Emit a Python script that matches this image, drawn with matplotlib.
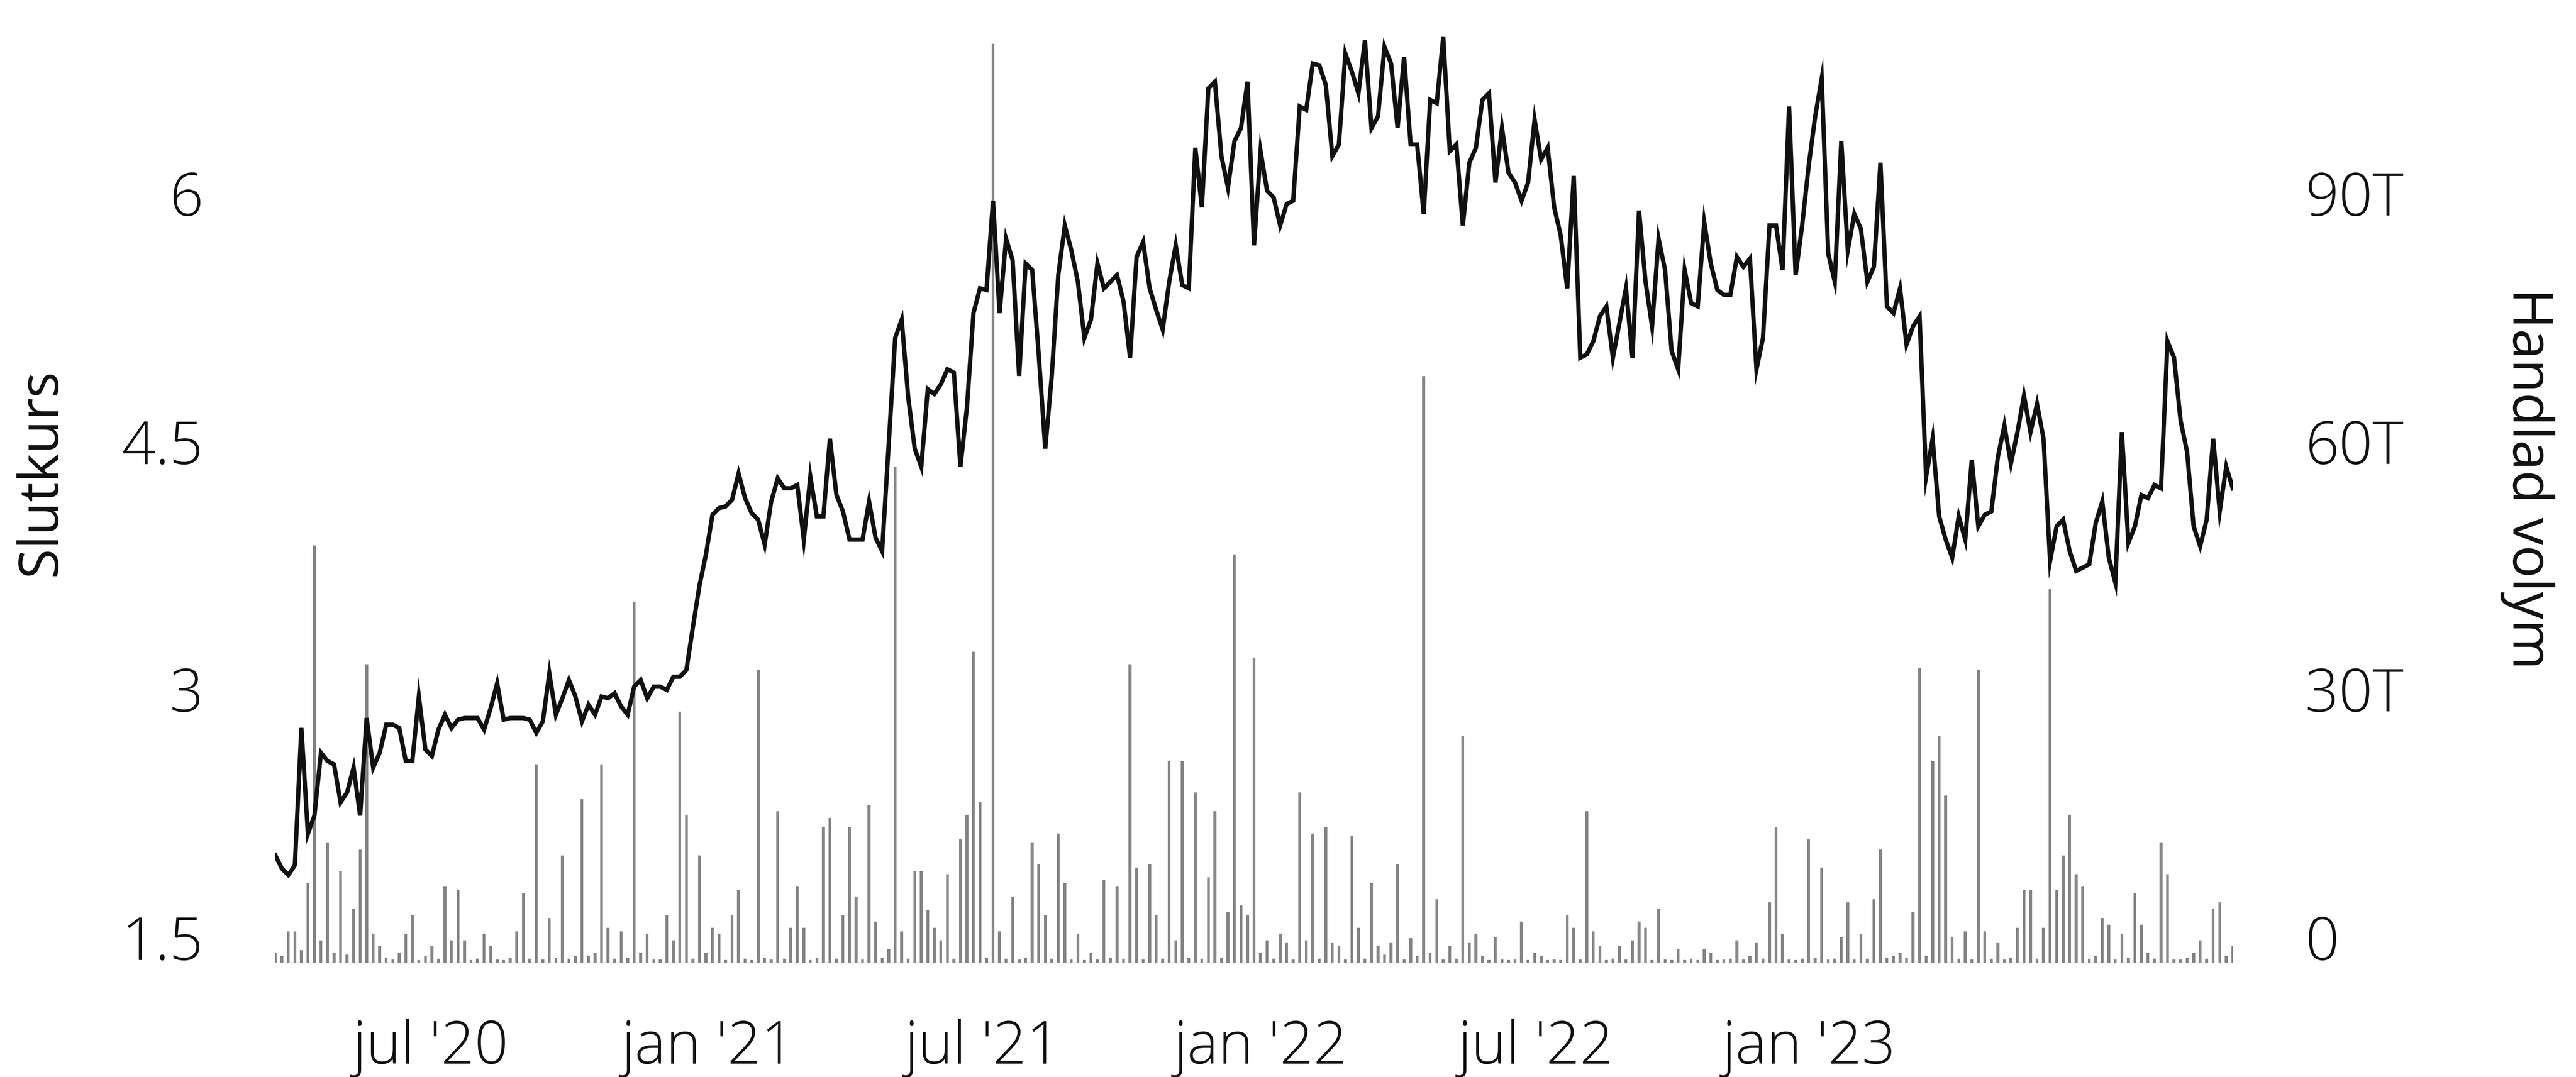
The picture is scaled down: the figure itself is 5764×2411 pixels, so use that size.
import numpy as np
import matplotlib.pyplot as plt
from matplotlib.transforms import ScaledTranslation

# closing price, one sample per step left to right
price = [
    # mar 2020 - dec 2020
    2.15, 2.07, 2.03, 2.09, 2.92, 2.28, 2.39, 2.77, 2.72, 2.70,
    2.47, 2.53, 2.68, 2.39, 2.98, 2.68, 2.77, 2.94, 2.94, 2.92,
    2.72, 2.72, 3.11, 2.79, 2.75, 2.91, 3.00, 2.92, 2.97, 2.98,
    2.98, 2.98, 2.91, 3.04, 3.19, 2.97, 2.98, 2.98, 2.98, 2.97,
    2.89, 2.96, 3.25, 3.00, 3.10, 3.21, 3.11, 2.96, 3.06,
    # dec 2020 - may 2021
    3.00, 3.11, 3.10, 3.13, 3.05, 3.00, 3.17, 3.21, 3.10, 3.17,
    3.17, 3.15, 3.23, 3.23, 3.27, 3.53, 3.78, 3.97, 4.21, 4.25,
    4.26, 4.30, 4.46, 4.31, 4.22, 4.18, 4.03, 4.29, 4.43, 4.37,
    4.37, 4.39, 4.06, 4.44, 4.20, 4.20, 4.67, 4.33, 4.23, 4.06,
    4.06, 4.06, 4.29, 4.07, 3.99, 4.63, 5.28, 5.39, 4.92, 4.61,
    # may 2021 - nov 2021
    4.50, 4.97, 4.94, 5.00, 5.09, 5.07, 4.50, 4.86, 5.43, 5.58,
    5.57, 6.11, 5.43, 5.88, 5.75, 5.05, 5.73, 5.69, 5.18, 4.61,
    5.05, 5.66, 5.96, 5.81, 5.62, 5.28, 5.39, 5.73, 5.58, 5.62,
    5.66, 5.50, 5.16, 5.77, 5.86, 5.58, 5.45, 5.33, 5.62, 5.84,
    5.60, 5.58, 6.43, 6.07, 6.79, 6.83, 6.38, 6.19, 6.47, 6.55,
    # nov 2021 - apr 2022
    6.83, 5.84, 6.41, 6.17, 6.13, 5.96, 6.09, 6.11, 6.68, 6.66,
    6.94, 6.93, 6.81, 6.38, 6.45, 7.00, 6.89, 6.76, 7.08, 6.55,
    6.62, 7.04, 6.94, 6.55, 6.98, 6.45, 6.45, 6.03, 6.72, 6.70,
    7.10, 6.41, 6.45, 5.96, 6.34, 6.43, 6.72, 6.76, 6.22, 6.55,
    6.28, 6.22, 6.11, 6.22, 6.60, 6.36, 6.43, 6.07, 5.90, 5.58,
    # apr 2022 - oct 2022
    6.26, 5.16, 5.18, 5.26, 5.41, 5.47, 5.16, 5.37, 5.58, 5.16,
    6.05, 5.62, 5.35, 5.88, 5.69, 5.20, 5.09, 5.69, 5.49, 5.47,
    5.98, 5.73, 5.57, 5.54, 5.54, 5.77, 5.71, 5.76, 5.09, 5.28,
    5.96, 5.96, 5.69, 6.68, 5.66, 5.96, 6.32, 6.62, 6.85, 5.79,
    5.62, 6.47, 5.81, 6.03, 5.94, 5.62, 5.71, 6.34, 5.47, 5.43,
    # oct 2022 - end
    5.58, 5.24, 5.35, 5.41, 4.44, 4.67, 4.20, 4.06, 3.95, 4.20,
    4.06, 4.54, 4.14, 4.21, 4.23, 4.56, 4.75, 4.52, 4.71, 4.93,
    4.71, 4.88, 4.67, 3.93, 4.14, 4.18, 3.99, 3.87, 3.89, 3.91,
    4.16, 4.29, 3.95, 3.80, 4.71, 4.04, 4.14, 4.33, 4.31, 4.39,
    4.37, 5.26, 5.16, 4.78, 4.59, 4.14, 4.02, 4.18, 4.67, 4.23,
    4.50, 4.37,
]

# traded volume in thousands, same steps as price
volume_k = [
    1.2, 0.8, 3.8, 3.8, 1.5, 9.6, 50.5, 2.7, 14.5, 1.2,
    11.1, 1.0, 6.5, 13.7, 36.1, 3.5, 2.0, 0.6, 0.4, 1.2,
    3.5, 5.8, 0.3, 0.8, 2.0, 0.5, 9.2, 2.7, 8.8, 2.7,
    0.3, 0.5, 3.5, 2.0, 0.4, 0.3, 0.6, 3.8, 8.4, 0.5,
    24.0, 0.4, 5.4, 0.6, 13.0, 0.5, 0.8, 19.8, 0.8,

    1.2, 24.0, 4.2, 0.5, 3.8, 0.6, 43.7, 1.2, 3.5, 0.4,
    0.4, 5.8, 2.7, 30.4, 17.9, 0.5, 13.0, 1.2, 4.2, 3.5,
    0.3, 5.8, 8.8, 0.5, 0.3, 35.4, 0.6, 0.4, 18.3, 0.5,
    4.2, 9.2, 4.2, 0.3, 0.6, 16.4, 17.5, 0.5, 5.8, 16.4,
    8.0, 0.4, 19.1, 5.0, 0.6, 1.6, 60.0, 3.8, 0.5, 11.1,

    11.1, 6.4, 4.2, 2.7, 10.7, 0.5, 14.9, 17.9, 37.6, 19.4,
    0.6, 111.2, 3.8, 0.5, 8.0, 0.4, 0.6, 14.5, 11.9, 5.8,
    0.5, 15.6, 9.6, 0.4, 3.5, 0.3, 1.2, 0.4, 10.0, 0.6,
    9.2, 0.5, 36.1, 11.5, 0.4, 11.9, 5.8, 0.5, 24.4, 2.7,
    24.4, 0.6, 20.6, 0.5, 10.3, 18.3, 0.6, 6.1, 49.4, 6.9,

    5.8, 36.9, 1.2, 2.7, 0.5, 3.5, 2.4, 0.4, 20.6, 2.7,
    15.6, 0.5, 16.4, 2.4, 2.0, 0.4, 15.3, 4.2, 0.5, 9.6,
    2.0, 1.0, 2.4, 11.9, 0.4, 3.0, 0.8, 71.0, 1.2, 7.7,
    0.4, 2.0, 0.5, 27.4, 2.4, 3.5, 0.8, 0.3, 3.1, 0.4,
    0.3, 0.4, 5.0, 0.3, 1.2, 0.8, 0.3, 0.4, 0.3, 5.8,

    4.2, 0.4, 18.3, 3.8, 2.0, 0.3, 0.5, 2.0, 0.4, 2.7,
    5.0, 4.2, 0.3, 6.5, 0.4, 0.3, 1.6, 0.3, 0.5, 0.3,
    1.6, 1.2, 0.3, 0.4, 0.5, 2.7, 0.4, 0.8, 2.4, 0.5,
    7.3, 16.4, 3.5, 0.4, 0.3, 0.5, 14.9, 0.6, 11.5, 0.4,
    0.5, 3.1, 7.3, 0.4, 3.5, 0.5, 7.7, 13.7, 0.6, 0.8,

    1.2, 0.6, 6.1, 35.7, 0.8, 24.4, 27.4, 20.2, 3.1, 0.5,
    3.8, 0.4, 35.4, 3.8, 0.5, 2.4, 0.4, 0.6, 4.2, 8.8,
    8.8, 0.5, 4.2, 45.2, 8.8, 13.0, 17.9, 10.7, 9.2, 0.5,
    0.8, 5.4, 4.6, 0.4, 3.5, 0.6, 8.4, 4.6, 1.2, 0.5,
    14.5, 10.7, 0.4, 0.4, 0.6, 1.2, 2.7, 0.5, 6.5, 7.3,
    0.8, 2.0,
]

month_pos = [23.8, 66.3, 108.4, 151.0, 193.2, 235.0]
month_labels = ["jul '20", "jan '21", "jul '21", "jan '22", "jul '22", "jan '23"]
price_ticks = [1.5, 3, 4.5, 6]
price_labels = ['1.5', '3', '4.5', '6']
vol_ticks = [0, 30, 60, 90]
vol_labels = ['0', '30T', '60T', '90T']

plt.rcParams['font.family'] = ['Open Sans', 'DejaVu Sans']
plt.rcParams['font.weight'] = 'light'

DPI = 100
W, H = 5764, 2411
fig = plt.figure(figsize=(W / DPI, H / DPI), dpi=DPI)
ax = fig.add_axes([616 / W, 256 / H, 4380 / W, 2109 / H])
ax_vol = ax.twinx()

x = np.arange(len(price))
ax_vol.bar(x, volume_k, width=0.45, color='#858585', linewidth=0)
ax.plot(x, price, color='#111111', lw=7, solid_joinstyle='miter')

# price line above the bars
ax.set_zorder(ax_vol.get_zorder() + 1)
ax.patch.set_visible(False)

ax.set_xlim(0, len(price) - 1)
ax.set_ylim(1.5, 7.2)
ax_vol.set_ylim(0, 114)

for a in (ax, ax_vol):
    for s in a.spines.values():
        s.set_visible(False)
    a.tick_params(length=0, labelsize=95, colors='#111111')

ax.set_xticks(month_pos)
ax.set_xticklabels(month_labels)
ax.tick_params(axis='x', pad=90)

ax.set_yticks(price_ticks)
ax.set_yticklabels(price_labels)
ax.tick_params(axis='y', pad=116)

ax_vol.set_yticks(vol_ticks)
ax_vol.set_yticklabels(vol_labels)
ax_vol.tick_params(axis='y', pad=117)

# y labels sit a bit above their tick in the original
shift = ScaledTranslation(0, 57 / DPI, fig.dpi_scale_trans)
for lab in ax.get_yticklabels() + ax_vol.get_yticklabels():
    lab.set_transform(lab.get_transform() + shift)

ax.set_ylabel('Slutkurs', fontsize=88, color='#111111', va='center', ha='center')
ax.yaxis.set_label_coords(-0.1196, 0.5206)
ax_vol.set_ylabel('Handlad volym', fontsize=88, color='#111111', rotation=270,
                  va='center', ha='center')
ax_vol.yaxis.set_label_coords(1.1505, 0.5135)

fig.savefig('out.png', dpi=DPI, facecolor='white')
